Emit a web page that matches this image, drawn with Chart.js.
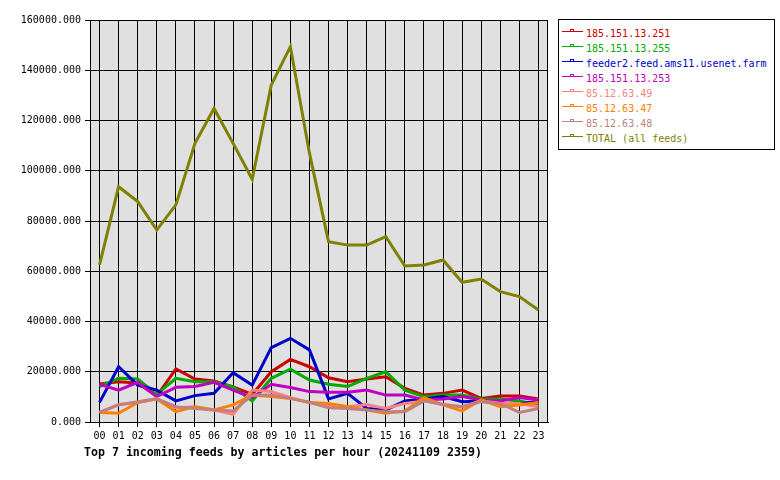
<!DOCTYPE html>
<html>
<head>
<meta charset="utf-8">
<script src="https://cdn.jsdelivr.net/npm/chart.js@4/dist/chart.umd.min.js"></script>
<style>
  html, body { margin: 0; padding: 0; background: #fff; }
  #wrap { position: relative; width: 780px; height: 480px; }
  #chart { position: absolute; left: 0; top: 0; }
  #legend {
    position: absolute; left: 558px; top: 19px; width: 217px; height: 131px;
    box-sizing: border-box; border: 1px solid #000; background: #fff;
    font-family: 'DejaVu Sans Mono', monospace; font-size: 10px;
  }
  .row { position: absolute; left: 0; height: 15px; line-height: 15px; white-space: nowrap; }
  .row .ln { position: absolute; left: 3px; top: 5px; width: 21px; height: 1px; }
  .row .mk { position: absolute; left: 11px; top: 3px; width: 2px; height: 1px; border: 1px solid; border-bottom: none; }
  .row .tx { position: absolute; left: 27px; top: 0; }
  #title {
    position: absolute; left: 84px; top: 445px; line-height: 14px;
    font-family: 'DejaVu Sans Mono', monospace; font-size: 11.6px; font-weight: bold; color: #000;
    white-space: nowrap;
  }
</style>
</head>
<body>
<div id="wrap">
  <canvas id="chart" width="780" height="480"></canvas>
  <div id="legend"></div>
  <div id="title">Top 7 incoming feeds by articles per hour (20241109 2359)</div>
</div>
<script>
// Data
const hours = ['00','01','02','03','04','05','06','07','08','09','10','11',
               '12','13','14','15','16','17','18','19','20','21','22','23'];

const feedNames = ['185.151.13.251', '185.151.13.255', 'feeder2.feed.ams11.usenet.farm',
                   '185.151.13.253', '85.12.63.49', '85.12.63.47', '85.12.63.48', 'TOTAL (all feeds)'];
const feedColors = ['#cc0000', '#00aa00', '#0000cc', '#c000c0', '#ff8080', '#ff8000', '#c08080', '#808000'];

const feed251 = [15100, 16000, 15500, 10300, 21100, 17100, 16300, 14000, 11000, 20000, 24900, 22000,
                 17600, 16000, 17100, 18000, 13400, 10700, 11400, 12700, 9400, 10300, 10300, 9200];
const feed255 = [14100, 17400, 17100, 11000, 17400, 16000, 16000, 14000, 8400, 17400, 21000, 16700,
                 15000, 14100, 17400, 20000, 12700, 10100, 10700, 10700, 9200, 9200, 8400, 6800];
const feeder2 = [7800, 22000, 14700, 12700, 8400, 10500, 11400, 19600, 14700, 29600, 33300, 28700,
                 9200, 11400, 5400, 4800, 8400, 9200, 10100, 8100, 8400, 7400, 7400, 8100];
const feed253 = [15000, 12700, 15800, 10100, 13800, 14100, 15800, 12700, 9700, 15000, 13700, 12100,
                 11800, 11800, 12700, 10700, 10700, 8800, 9200, 10100, 8800, 8400, 9700, 8800];
const feed49 = [3800, 7000, 7800, 9200, 5700, 6100, 4800, 3100, 12700, 12100, 9700, 7800,
                6800, 6100, 7000, 5400, 7400, 8400, 7000, 6100, 8400, 7400, 7400, 6100];
const feed47 = [3800, 3500, 7800, 9200, 4100, 6100, 4800, 6800, 10700, 10100, 9400, 7800,
                7400, 6100, 4800, 3500, 4400, 9700, 6800, 4400, 8800, 6100, 6800, 7800];
const feed48 = [3800, 6800, 8100, 9200, 6100, 5400, 4800, 4400, 10700, 10700, 9400, 7800,
                5700, 5400, 4800, 4100, 4100, 8400, 7000, 6100, 8100, 7400, 3800, 5400];
const totalFeeds = [62500, 93650, 87700, 76400, 86400, 110900, 124800, 110900, 96600, 134100, 149400, 107000,
                    71800, 70400, 70400, 73800, 62100, 62500, 64500, 55600, 56900, 51900, 49900, 44600];

const yTicks = [0, 20000, 40000, 60000, 80000, 100000, 120000, 140000, 160000];

const series = [feed251, feed255, feeder2, feed253, feed49, feed47, feed48, totalFeeds];

const datasets = series.map((vals, i) => ({
    label: feedNames[i],
    data: vals,
    borderColor: feedColors[i],
    backgroundColor: feedColors[i],
    borderWidth: 3,
    pointRadius: 0,
    tension: 0,
    fill: false,
    order: 10 - i   // later feeds drawn on top, like the original
}));

// plot background + frame
const frame = {
    id: 'frame',
    beforeDraw(chart) {
        const { ctx, chartArea: a } = chart;
        ctx.save();
        ctx.fillStyle = '#e0e0e0';
        ctx.fillRect(a.left, a.top, a.right - a.left, a.bottom - a.top);
        ctx.restore();
    },
    afterDraw(chart) {
        const { ctx, chartArea: a } = chart;
        ctx.save();
        ctx.strokeStyle = '#000';
        ctx.lineWidth = 1;
        ctx.strokeRect(Math.round(a.left) + 0.5, Math.round(a.top) + 0.5,
                       Math.round(a.right - a.left) - 1, Math.round(a.bottom - a.top));
        ctx.restore();
    }
};

const font = { family: 'DejaVu Sans Mono', size: 10 };

const chart = new Chart(document.getElementById('chart'), {
    type: 'line',
    data: { labels: hours, datasets: datasets },
    plugins: [frame],
    options: {
        responsive: false,
        animation: false,
        layout: { padding: { left: 0, top: 20, right: 232, bottom: 0 } },
        scales: {
            x: {
                offset: true,
                grid: { offset: false, color: '#000', lineWidth: 1, tickLength: 5, drawOnChartArea: true },
                border: { color: '#000' },
                ticks: { color: '#000', font: font, padding: 3, maxRotation: 0, autoSkip: false },
                afterFit(s) { s.height = 58; }
            },
            y: {
                min: 0,
                max: 160000,
                afterBuildTicks(s) { s.ticks = yTicks.map(v => ({ value: v })); },
                grid: { color: '#000', lineWidth: 1, tickLength: 5 },
                border: { color: '#000' },
                ticks: { color: '#000', font: font, padding: 4, callback: v => v.toFixed(3) },
                afterFit(s) { s.width = 90; }
            }
        },
        plugins: {
            legend: { display: false },
            tooltip: { enabled: false }
        }
    }
});

// legend box built from the datasets
const legend = document.getElementById('legend');
chart.data.datasets.forEach((ds, i) => {
    const row = document.createElement('div');
    row.className = 'row';
    row.style.top = (6 + i * 15.05) + 'px';
    row.style.width = '100%';
    row.innerHTML = `<span class="ln" style="background:${ds.borderColor}"></span>` +
                    `<span class="mk" style="border-color:${ds.borderColor}"></span>` +
                    `<span class="tx" style="color:${ds.borderColor}">${ds.label}</span>`;
    legend.appendChild(row);
});
</script>
</body>
</html>
